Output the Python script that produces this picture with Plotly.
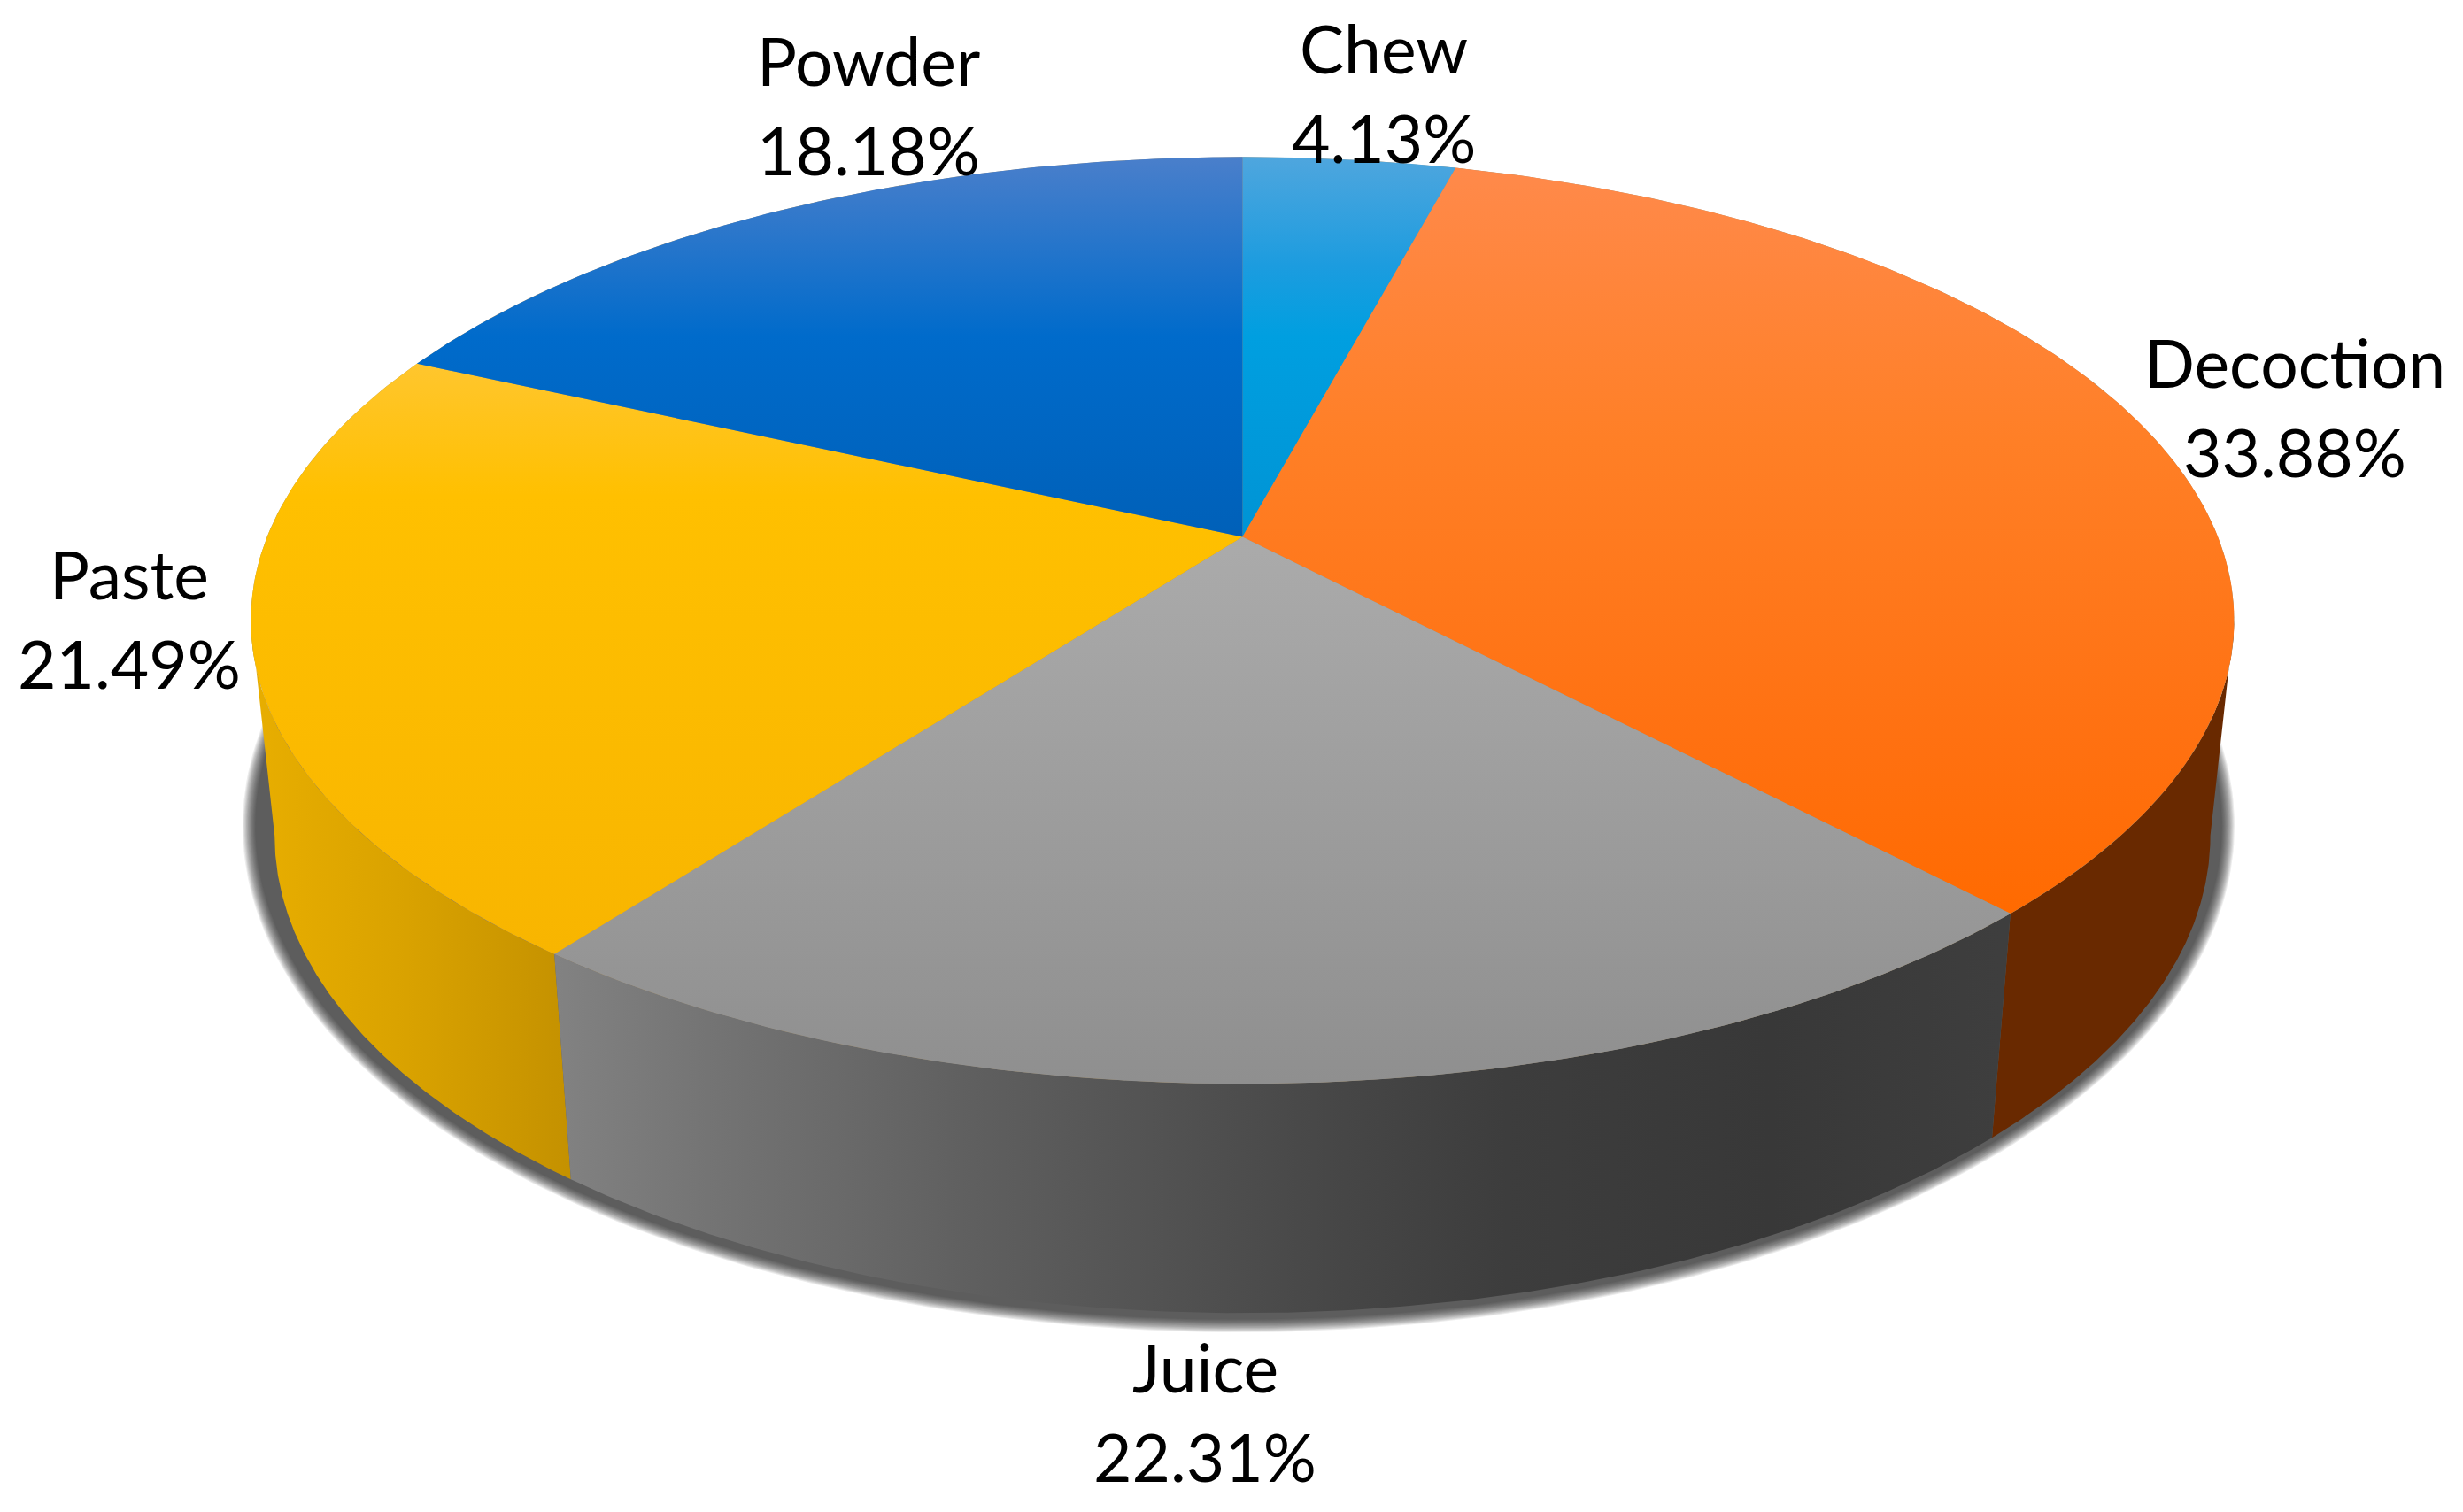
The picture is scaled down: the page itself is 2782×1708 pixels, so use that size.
import numpy as np
import plotly.graph_objects as go

# clockwise from 12 o'clock
categories = ['Chew', 'Decoction', 'Juice', 'Paste', 'Powder']
shares = [4.13, 33.88, 22.31, 21.49, 18.18]
share_labels = ['4.13%', '33.88%', '22.31%', '21.49%', '18.18%']

# gradient stops per slice: (pixel y, colour)
top_stops = [
    [(177, '#4fa6de'), (300, '#1c9cdf'), (380, '#009fe0'), (700, '#008fd0')],
    [(177, '#ff8a4c'), (500, '#ff7f26'), (850, '#ff7010'), (1040, '#ff6a00')],
    [(600, '#ababab'), (1224, '#8f8f8f')],
    [(410, '#ffc62e'), (560, '#ffc000'), (1080, '#f8b500')],
    [(177, '#4a7fcb'), (380, '#006bcb'), (610, '#0060b8')],
]
# side wall stops: (pixel x, colour), Chew and Powder never show
side_stops = [
    None,
    [(2240, '#692900'), (2560, '#692900')],
    [(626, '#828282'), (800, '#747474'), (1100, '#5f5f5f'), (1500, '#474747'),
     (1700, '#3d3d3d'), (2000, '#383838'), (2260, '#3e3e3e')],
    [(285, '#e8ae00'), (460, '#d9a200'), (645, '#c49100')],
    None,
]

# label centres in pixels, name line then value line
label_pos = [(1563, 54, 155), (2592, 409, 510), (1361, 1544, 1645), (146, 648, 749), (981, 68, 169)]

# projected circle: centre, half axes and perspective
CX, CY = 1403.4, 606.6
A, B, K = 1101.8, 506.5, 0.18
# bottom rim relative to top rim
SX, SY, Y_BOTTOM = 0.976, 1.03, 847
# angles where the rim turns into the left/right outline
SIL_RIGHT = np.arccos(-K)
SIL_LEFT = 2 * np.pi - SIL_RIGHT


def rim(theta):
    u, v = np.sin(theta), np.cos(theta)
    d = 1 + K * v
    return CX + A * u / d, CY - B * v / d


def rim_bottom(theta):
    x, y = rim(theta)
    return CX + SX * (x - CX), Y_BOTTOM + SY * (y - CY)


def scale(stops, lo, hi):
    return [[(p - lo) / (hi - lo), c] for p, c in stops]


def gradient(kind, stops):
    lo, hi = stops[0][0], stops[-1][0]
    return dict(type=kind, start=lo, stop=hi, colorscale=scale(stops, lo, hi))


fig = go.Figure()

# soft shadow under the disc, stacked see-through ellipses
t = np.linspace(0, 2 * np.pi, 361)
for i in range(14):
    grow = 12 - 1.1 * i
    fig.add_trace(go.Scatter(
        x=1399 + (1113 + grow) * np.cos(t),
        y=933 + (560 + grow) * np.sin(t),
        mode='lines', fill='toself', line=dict(width=0),
        fillcolor='rgba(30,30,30,0.085)', hoverinfo='skip'))

fractions = np.cumsum([0] + shares) / sum(shares)
angles = fractions * 2 * np.pi

# side wall, only the front part between the two outline angles
for i in [1, 3, 2]:
    th = np.linspace(max(angles[i], SIL_RIGHT), min(angles[i + 1], SIL_LEFT), 160)
    xt, yt = rim(th)
    xb, yb = rim_bottom(th)
    fig.add_trace(go.Scatter(
        x=np.r_[xt, xb[::-1]], y=np.r_[yt, yb[::-1]],
        mode='lines', fill='toself', line=dict(width=0),
        fillgradient=gradient('horizontal', side_stops[i]), hoverinfo='skip'))

# underlay so no white seams show between the slices
xd, yd = rim(t)
fig.add_trace(go.Scatter(x=xd, y=yd, mode='lines', fill='toself',
                         line=dict(width=0), fillcolor='#a08f70', hoverinfo='skip'))

# top face
for i in range(len(categories)):
    th = np.linspace(angles[i], angles[i + 1], 160)
    xt, yt = rim(th)
    fig.add_trace(go.Scatter(
        x=np.r_[CX, xt, CX], y=np.r_[CY, yt, CY],
        mode='lines', fill='toself', line=dict(width=0),
        fillgradient=gradient('vertical', top_stops[i]), hoverinfo='skip'))

for name, val, (x, y1, y2) in zip(categories, share_labels, label_pos):
    for txt, y in ((name, y1), (val, y2)):
        fig.add_annotation(x=x, y=y, text=txt, showarrow=False,
                           xanchor='center', yanchor='middle',
                           font=dict(family='Lato', size=75, color='#000000'))

fig.update_xaxes(range=[0, 2782], visible=False, fixedrange=True)
fig.update_yaxes(range=[1708, 0], visible=False, fixedrange=True)
fig.update_layout(width=2782, height=1708, margin=dict(l=0, r=0, t=0, b=0),
                  showlegend=False, paper_bgcolor='white', plot_bgcolor='white')

fig.write_html("out.html", config=dict(displayModeBar=False),
               post_script="document.body.style.margin='0';document.body.style.overflow='hidden';")
